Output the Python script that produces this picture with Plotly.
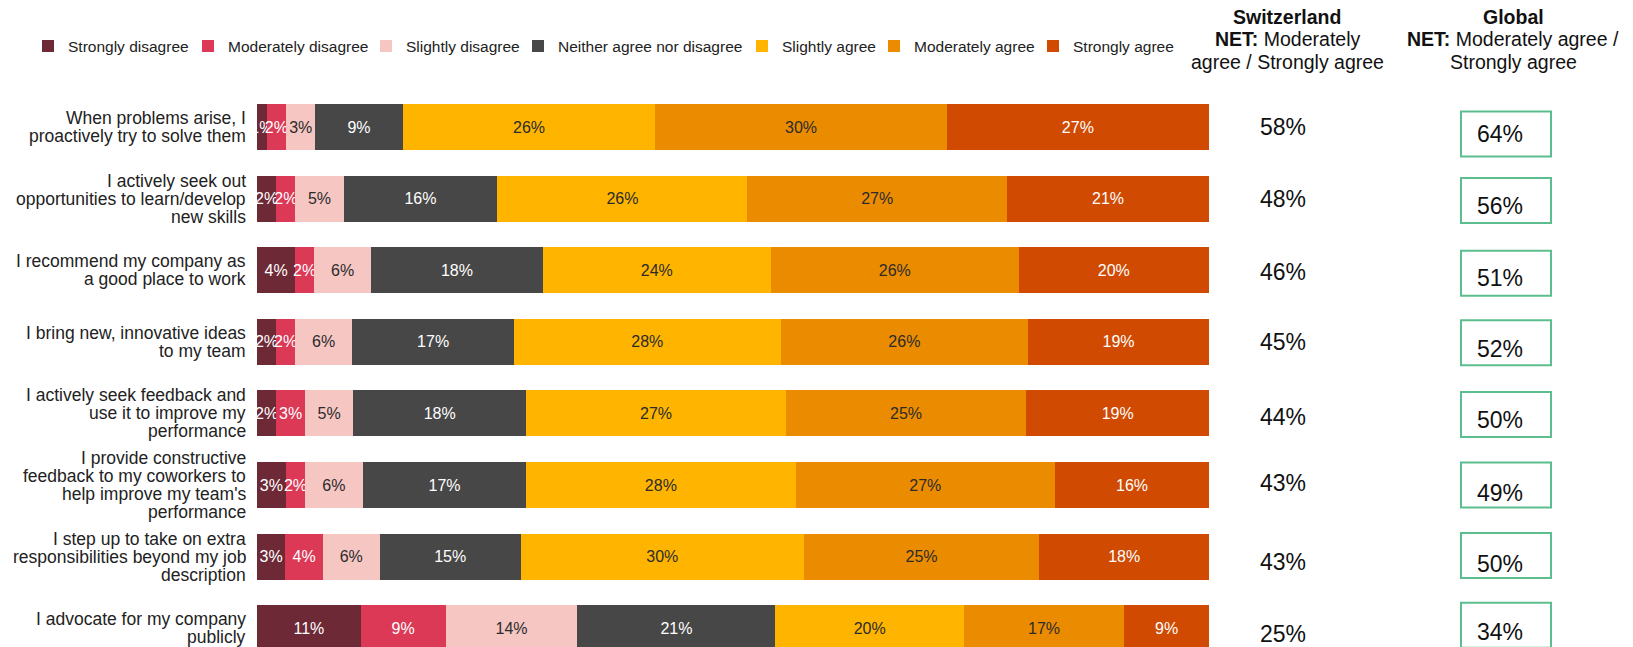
import plotly.graph_objects as go

# ---------------- data ----------------
categories = [
    "When problems arise, I<br>proactively try to solve them",
    "I actively seek out<br>opportunities to learn/develop<br>new skills",
    "I recommend my company as<br>a good place to work",
    "I bring new, innovative ideas<br>to my team",
    "I actively seek feedback and<br>use it to improve my<br>performance",
    "I provide constructive<br>feedback to my coworkers to<br>help improve my team's<br>performance",
    "I step up to take on extra<br>responsibilities beyond my job<br>description",
    "I advocate for my company<br>publicly",
]
series_names = [
    "Strongly disagree", "Moderately disagree", "Slightly disagree",
    "Neither agree nor disagree", "Slightly agree", "Moderately agree", "Strongly agree",
]
strongly_disagree = [1, 2, 4, 2, 2, 3, 3, 11]
moderately_disagree = [2, 2, 2, 2, 3, 2, 4, 9]
slightly_disagree = [3, 5, 6, 6, 5, 6, 6, 14]
neither = [9, 16, 18, 17, 18, 17, 15, 21]
slightly_agree = [26, 26, 24, 28, 27, 28, 30, 20]
moderately_agree = [30, 27, 26, 26, 25, 27, 25, 17]
strongly_agree = [27, 21, 20, 19, 19, 16, 18, 9]
switzerland_net = [58, 48, 46, 45, 44, 43, 43, 25]
global_net = [64, 56, 51, 52, 50, 49, 50, 34]

switzerland_header = ["<b>Switzerland</b>", "<b>NET:</b> Moderately", "agree / Strongly agree"]
global_header = ["<b>Global</b>", "<b>NET:</b> Moderately agree /", "Strongly agree"]

# ---------------- style / layout ----------------
colors = ["#6E2936", "#DC3957", "#F6C6C3", "#474747", "#FFB500", "#EB8C00", "#D04A02"]
text_colors = ["#FFFFFF", "#FFFFFF", "#2B2B2B", "#FFFFFF", "#2B2B2B", "#2B2B2B", "#FFFFFF"]
FONT = "Liberation Sans, Arial, Helvetica, sans-serif"

OFF = 8                      # page body margin
W, H = 1633 - OFF, 647 - OFF
PL, PR = 257 - OFF, 1209 - OFF   # plot area left / right (figure px)
T = 80                           # top margin (legend + headers live above)
ROW0, PITCH = 127 - OFF, 71.6    # centre of first bar, row pitch (figure px)

# legend entry left edges (screen px) – one small legend per series
legend_left = [28, 188, 366, 518, 742, 874, 1033]

# small vertical nudges (px, positive = down) of the right-hand columns
swiss_nudge = [0, 0, 2, 0, 4, -2, 5, 6]
box_nudge = [7, 2, 3, 1, 1, 0, -1, -3]
box_text_nudge = [0, 5, 5, 6, 6, 8, 8, 7]


def px_x(p):
    return (p - OFF - PL) / (PR - PL)


def px_y(p):
    return (H - (p - OFF)) / (H - T)


values = [strongly_disagree, moderately_disagree, slightly_disagree, neither,
          slightly_agree, moderately_agree, strongly_agree]

fig = go.Figure()
legend_layouts = {}
for k, (name, vals, col, tcol) in enumerate(zip(series_names, values, colors, text_colors)):
    lname = "legend" if k == 0 else f"legend{k + 1}"
    fig.add_trace(go.Bar(
        y=categories, x=vals, name=name, orientation="h", legend=lname,
        marker=dict(color=col, line=dict(width=0)),
        text=[f"{v}%" for v in vals], textposition="inside",
        insidetextanchor="middle", constraintext="none", textangle=0,
        textfont=dict(family=FONT, size=16, color=tcol),
        hoverinfo="skip",
    ))
    legend_layouts[lname] = dict(
        orientation="h", x=px_x(legend_left[k]), xanchor="left",
        y=px_y(46.5), yanchor="middle",
        font=dict(family=FONT, size=15.5, color="#222222"),
        bgcolor="rgba(0,0,0,0)", borderwidth=0,
        itemclick=False, itemdoubleclick=False,
    )

annotations = []
shapes = []

# category labels (one annotation per line for tight line spacing)
for cat in categories:
    lines = cat.split("<br>")
    n = len(lines)
    for j, ln in enumerate(lines):
        annotations.append(dict(
            x=0, xref="paper", xanchor="right", xshift=-9,
            y=cat, yref="y", yanchor="middle", yshift=((n - 1) / 2 - j) * 18,
            text=ln, showarrow=False, font=dict(family=FONT, size=17.5, color="#222222"),
        ))

# column headers
for lines, cx in ((switzerland_header, 1287), (global_header, 1513)):
    for j, ln in enumerate(lines):
        annotations.append(dict(
            x=px_x(cx), xref="paper", xanchor="center",
            y=px_y(17 + j * 22.5), yref="paper", yanchor="middle",
            text=ln, showarrow=False, font=dict(family=FONT, size=19.5, color="#111111"),
        ))

# Switzerland NET values
for cat, v, d in zip(categories, switzerland_net, swiss_nudge):
    annotations.append(dict(
        x=px_x(1283), xref="paper", xanchor="center",
        y=cat, yref="y", yanchor="middle", yshift=-d,
        text=f"{v}%", showarrow=False, font=dict(family=FONT, size=23, color="#111111"),
    ))

# Global NET values in boxes
half = 0.5 * 45 / PITCH
for i, (cat, v) in enumerate(zip(categories, global_net)):
    c = i + box_nudge[i] / PITCH
    shapes.append(dict(
        type="rect", xref="paper", yref="y",
        x0=px_x(1461), x1=px_x(1551), y0=c - half, y1=c + half,
        line=dict(color="#5CBE8E", width=2), fillcolor="rgba(0,0,0,0)",
    ))
    annotations.append(dict(
        x=px_x(1500), xref="paper", xanchor="center",
        y=cat, yref="y", yanchor="middle", yshift=-(box_nudge[i] + box_text_nudge[i]),
        text=f"{v}%", showarrow=False, font=dict(family=FONT, size=23, color="#111111"),
    ))

fig.update_layout(
    width=W, height=H,
    margin=dict(l=PL, r=W - PR, t=T, b=0, pad=0),
    barmode="stack", barnorm="percent", bargap=1 - 46 / PITCH,
    paper_bgcolor="white", plot_bgcolor="white",
    font=dict(family=FONT, color="#222222"),
    showlegend=True,
    xaxis=dict(range=[0, 100], visible=False, fixedrange=True),
    yaxis=dict(
        type="category", categoryorder="array", categoryarray=categories,
        range=[(H - ROW0) / PITCH, (T - ROW0) / PITCH],
        showticklabels=False, showgrid=False, zeroline=False, showline=False,
        ticks="", fixedrange=True,
    ),
    annotations=annotations, shapes=shapes,
    **legend_layouts,
)

fig.write_html("out.html")
